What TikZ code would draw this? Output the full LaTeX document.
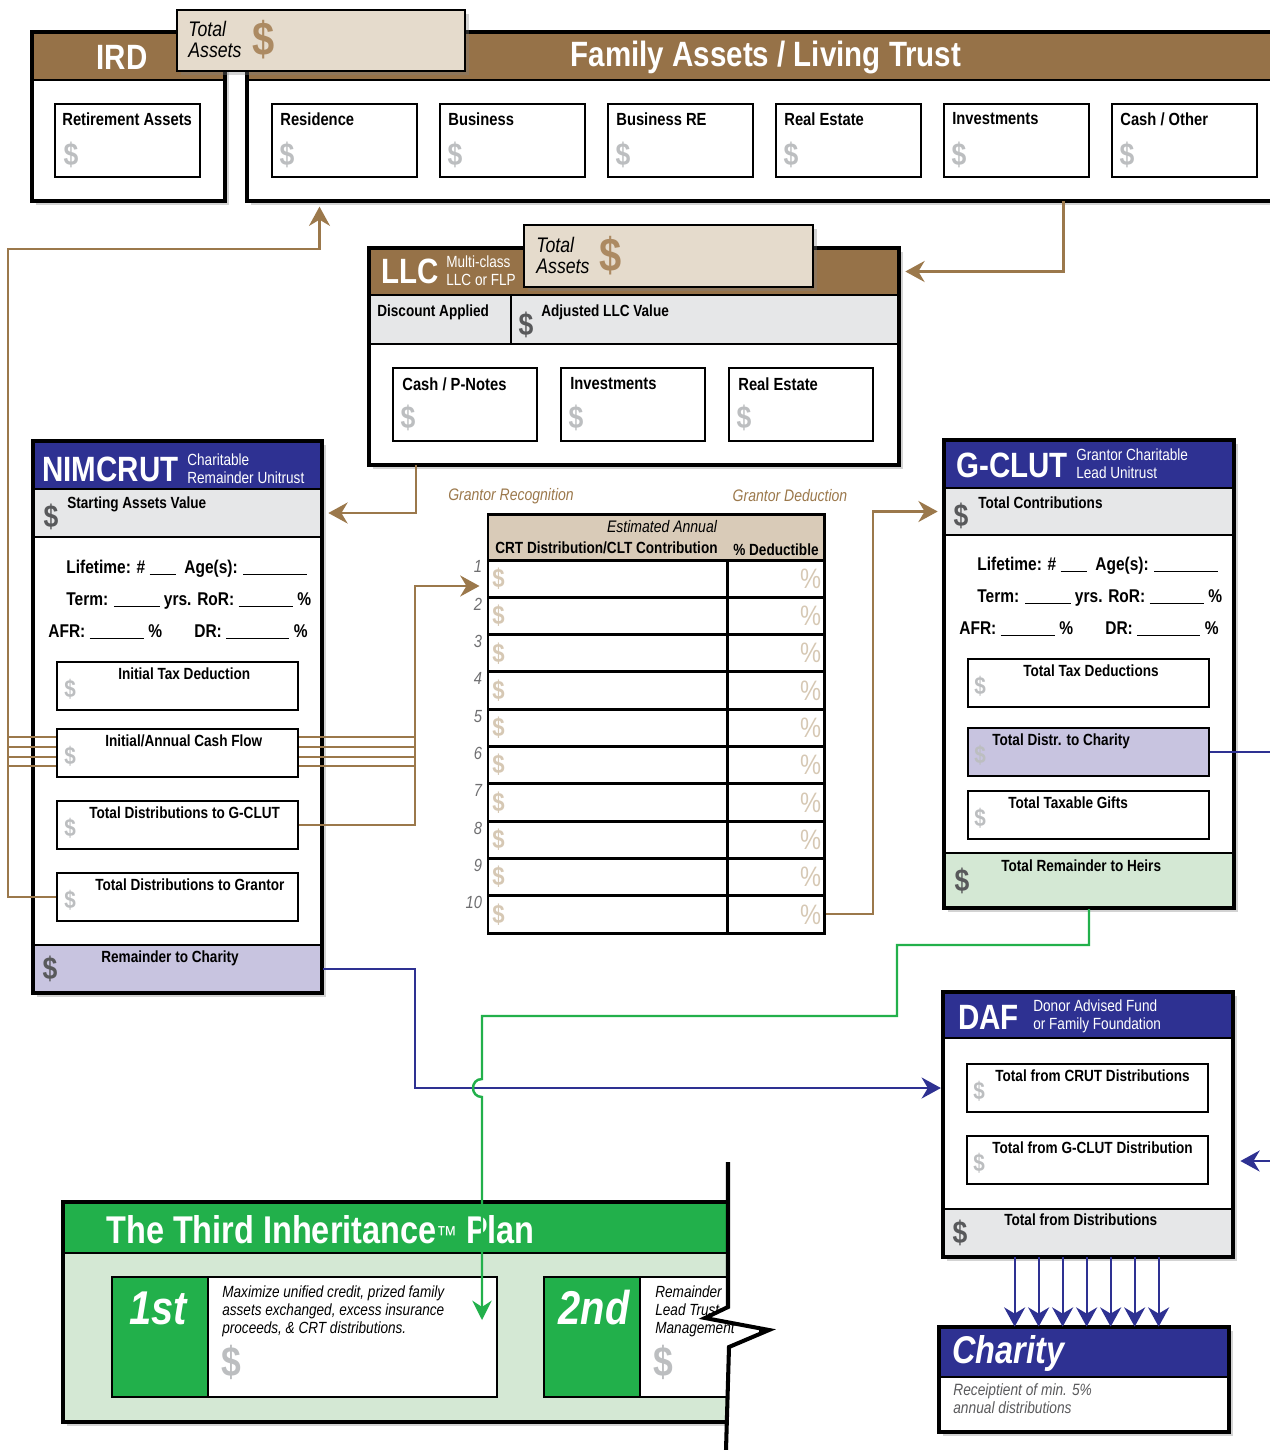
\documentclass[tikz,border=0pt]{standalone}
\usepackage{fontspec}
\setmainfont{Liberation Sans}[FakeStretch=0.84]
\usepackage{tikz}
\usetikzlibrary{shapes,shadows,calc,fit,arrows.meta}

\definecolor{trustbrown}{RGB}{150,114,72}
\definecolor{flowbrown}{RGB}{155,120,75}
\definecolor{dollarbrown}{RGB}{172,138,98}
\definecolor{totalbeige}{RGB}{229,219,204}
\definecolor{tablebeige}{RGB}{217,203,184}
\definecolor{tabledollar}{RGB}{214,200,180}
\definecolor{trustblue}{RGB}{46,49,146}
\definecolor{lavender}{RGB}{200,196,224}
\definecolor{rowgrey}{RGB}{230,231,232}
\definecolor{plangreen}{RGB}{34,176,75}
\definecolor{palegreen}{RGB}{212,232,212}
\definecolor{lightdollar}{RGB}{188,190,192}
\definecolor{darkdollar}{RGB}{88,89,91}
\definecolor{numgrey}{RGB}{110,110,112}
\definecolor{notegrey}{RGB}{90,90,92}

\newcommand{\fsz}[1]{\fontsize{#1}{#1}\selectfont}
\newcommand{\blankline}[1]{\rule[-1.2pt]{#1}{0.5pt}}

\begin{document}
\begin{tikzpicture}[x=0.02cm, y=-0.02cm]
    \tikzstyle{panel}=[fill=white, inner sep=0pt,
                       drop shadow={shadow xshift=2pt, shadow yshift=-2pt, opacity=0.35}]
    \tikzstyle{frameline}=[line width=2.3pt]
    \tikzstyle{band}=[draw=black, line width=1.2pt, inner sep=0pt]
    \tikzstyle{assetbox}=[draw=black, line width=1.5pt, fill=white, inner sep=0pt]
    \tikzstyle{cell}=[draw=black, line width=1.7pt, inner sep=0pt]
    \tikzstyle{totalbox}=[draw=black, line width=1.6pt, fill=totalbeige, inner sep=0pt,
                          drop shadow={shadow xshift=2pt, shadow yshift=-2pt, opacity=0.35}]
        % The texts:
    \tikzstyle{headtext}=[font=\bfseries\fsz{20}, text=white, inner sep=0pt]
    \tikzstyle{subtext}=[font=\fontsize{9.2}{10.4}\selectfont, text=white, inner sep=0pt,
                         align=left, anchor=west]
    \tikzstyle{totaltext}=[font=\itshape\fsz{12}, inner sep=0pt, align=left, anchor=north west]
    \tikzstyle{boxtext}=[font=\bfseries\fsz{10}, inner sep=0pt, anchor=north west]
    \tikzstyle{rowtext}=[font=\bfseries\fsz{9.2}, inner sep=0pt, anchor=north west]
    \tikzstyle{formtext}=[font=\bfseries\fsz{10.5}, inner sep=0pt, anchor=base west]
    \tikzstyle{flowlabel}=[font=\itshape\fsz{9.5}, text=flowbrown, inner sep=0pt]
    \tikzstyle{rownum}=[font=\itshape\fsz{10}, text=numgrey, inner sep=0pt, anchor=north east]
    \tikzstyle{tagtext}=[font=\bfseries\itshape\fsz{27}, text=white, inner sep=0pt]
    \tikzstyle{plannote}=[font=\itshape\fontsize{9.2}{10.3}\selectfont, inner sep=0pt,
                          align=left, anchor=north west]
    \tikzstyle{faintdollar}=[font=\bfseries\fsz{18}, text=lightdollar, inner sep=0pt]
    \tikzstyle{bigdollar}=[font=\bfseries\fsz{18}, text=darkdollar, inner sep=0pt]
    \tikzstyle{browndollar}=[font=\bfseries\fsz{27}, text=dollarbrown, inner sep=0pt]
        % The connectors:
    \tikzstyle{flow}=[draw=flowbrown, line width=1.2pt]
    \tikzstyle{flowarrow}=[flow, -{Stealth[length=11pt,width=12pt]}]
    \tikzstyle{blueflow}=[draw=trustblue, line width=1.2pt, -{Stealth[length=11pt,width=12pt]}]
    \tikzstyle{greenflow}=[draw=plangreen, line width=1.4pt, -{Stealth[length=11pt,width=11pt]}]

    \useasboundingbox (0,0) rectangle (1270,1450);
    \clip (0,0) rectangle (1270,1450);

    % family assets / living trust
    \node[panel, fit={(247,32)(1300,201)}] (family) {};
    \node[band, fill=trustbrown, fit={(247,32)(1300,80)}] (familyhead) {};
    \draw[frameline] (family.north west) rectangle (family.south east);
    \node[headtext] (familytitle) at (766,57) {Family Assets / Living Trust};
    \foreach \name/\x/\txt in {residence/272/Residence, business/440/Business,
            businessre/608/Business RE, realestate/776/Real Estate,
            investments/944/Investments, cashother/1112/{Cash / Other}}
    {
        \node[assetbox, fit={(\x,104)(\x+145,177)}] (\name) {};
        \node[boxtext] (\name-label) at (\x+8,112) {\txt};
        \node[faintdollar] (\name-dollar) at (\x+15,155) {\$};
    }

    % IRD
    \node[panel, fit={(32,32)(225,201)}] (ird) {};
    \node[band, fill=trustbrown, fit={(32,32)(225,80)}] (irdhead) {};
    \draw[frameline] (ird.north west) rectangle (ird.south east);
    \node[headtext] (irdtitle) at (122,57) {IRD};
    \node[assetbox, fit={(55,104)(200,177)}] (retire) {};
    \node[boxtext] (retire-label) at (62,112) {Retirement Assets};
    \node[faintdollar] (retire-dollar) at (71,155) {\$};

    \node[totalbox, fit={(177,10)(465,71)}] (irdtotal) {};
    \node[totaltext] (irdtotal-label) at (188,21) {Total\\Assets};
    \node[browndollar] (irdtotal-dollar) at (264,40) {\$};

    % LLC
    \node[panel, fit={(369,248)(899,465)}] (llc) {};
    \node[band, fill=trustbrown, fit={(369,248)(899,295)}] (llchead) {};
    \node[band, fill=rowgrey, fit={(369,295)(511,344)}] (discount) {};
    \node[band, fill=rowgrey, fit={(511,295)(899,344)}] (adjusted) {};
    \draw[frameline] (llc.north west) rectangle (llc.south east);
    \node[headtext, anchor=west] (llctitle) at (381,271) {LLC};
    \node[subtext] (llcsub) at (446,271) {Multi-class\\LLC or FLP};
    \node[totalbox, fit={(524,225)(813,287)}] (llctotal) {};
    \node[totaltext] (llctotal-label) at (536,237) {Total\\Assets};
    \node[browndollar] (llctotal-dollar) at (611,256) {\$};
    \node[rowtext] (discount-label) at (377,304) {Discount Applied};
    \node[rowtext] (adjusted-label) at (541,304) {Adjusted LLC Value};
    \node[bigdollar] (adjusted-dollar) at (526,325) {\$};
    \foreach \name/\x/\txt in {llccash/393/{Cash / P-Notes}, llcinvest/561/Investments,
            llcreal/729/Real Estate}
    {
        \node[assetbox, fit={(\x,368)(\x+144,441)}] (\name) {};
        \node[boxtext] (\name-label) at (\x+9,377) {\txt};
        \node[faintdollar] (\name-dollar) at (\x+15,418) {\$};
    }

    % NIMCRUT
    \node[panel, fit={(33,441)(322,993)}] (nimcrut) {};
    \node[band, fill=trustblue, fit={(33,441)(322,489)}] (nimhead) {};
    \node[band, fill=rowgrey, fit={(33,489)(322,537)}] (nimstart) {};
    \node[band, fill=lavender, fit={(33,945)(322,993)}] (nimrest) {};
    \draw[frameline] (nimcrut.north west) rectangle (nimcrut.south east);
    \node[headtext, anchor=west] (nimtitle) at (42,469) {NIMCRUT};
    \node[subtext] (nimsub) at (187,469) {Charitable\\Remainder Unitrust};
    \node[bigdollar] (nimstart-dollar) at (51,517) {\$};
    \node[rowtext] (nimstart-label) at (67,496) {Starting Assets Value};
    \node[bigdollar] (nimrest-dollar) at (50,969) {\$};
    \node[rowtext] (nimrest-label) at (101,950) {Remainder to Charity};
    \foreach \name/\y/\dx/\txt in {nimtax/662/61/Initial Tax Deduction,
            nimcash/729/48/{Initial/Annual Cash Flow},
            nimgclut/801/32/Total Distributions to G-CLUT,
            nimgrant/873/38/Total Distributions to Grantor}
    {
        \node[assetbox, fit={(57,\y)(298,\y+48)}] (\name) {};
        \node[rowtext] (\name-label) at (57+\dx,\y+5) {\txt};
        \node[faintdollar, font=\bfseries\fsz{14}] (\name-dollar) at (70,\y+27) {\$};
    }

    % G-CLUT
    \node[panel, fit={(944,440)(1234,908)}] (gclut) {};
    \node[band, fill=trustblue, fit={(944,440)(1234,488)}] (ghead) {};
    \node[band, fill=rowgrey, fit={(944,488)(1234,535)}] (gstart) {};
    \node[band, fill=palegreen, fit={(944,853)(1234,908)}] (gheirs) {};
    \draw[frameline] (gclut.north west) rectangle (gclut.south east);
    \node[headtext, anchor=west] (gtitle) at (956,465) {G-CLUT};
    \node[subtext] (gsub) at (1076,464) {Grantor Charitable\\Lead Unitrust};
    \node[bigdollar] (gstart-dollar) at (961,516) {\$};
    \node[rowtext] (gstart-label) at (978,496) {Total Contributions};
    \node[bigdollar] (gheirs-dollar) at (962,881) {\$};
    \node[rowtext] (gheirs-label) at (1001,859) {Total Remainder to Heirs};
    \foreach \name/\y/\dx/\fillc/\txt in {gtax/659/55/white/Total Tax Deductions,
            gcharity/728/24/lavender/Total Distr. to Charity,
            ggifts/791/40/white/Total Taxable Gifts}
    {
        \node[assetbox, fill=\fillc, fit={(968,\y)(1209,\y+48)}] (\name) {};
        \node[rowtext] (\name-label) at (968+\dx,\y+5) {\txt};
        \node[faintdollar, font=\bfseries\fsz{14}] (\name-dollar) at (980,\y+27) {\$};
    }

    % form lines of both trusts
    \foreach \dx/\dy/\trust in {0/0/nim, 911/-3/g}
    {
        \node[formtext] (\trust-life) at (66+\dx,573+\dy) {Lifetime: \# \blankline{15pt}};
        \node[formtext] (\trust-age) at (184+\dx,573+\dy) {Age(s): \blankline{36pt}};
        \node[formtext] (\trust-term) at (66+\dx,605+\dy) {Term: \blankline{26pt} yrs. RoR: \blankline{31pt} \%};
        \node[formtext] (\trust-afr) at (48+\dx,637+\dy) {AFR: \blankline{31pt} \%};
        \node[formtext] (\trust-dr) at (194+\dx,637+\dy) {DR: \blankline{36pt} \%};
    }

    % CRT distribution table
    \node[flowlabel] (recognition) at (511,496) {Grantor Recognition};
    \node[flowlabel] (deduction) at (790,496) {Grantor Deduction};
    \node[cell, fit={(488,514)(824,933)}] (crt) {};
    \node[cell, fill=tablebeige, fit={(488,514)(824,560)}] (crthead) {};
    \node[font=\itshape\fsz{9.5}, inner sep=0pt] (crtnote) at (662,527) {Estimated Annual};
    \node[rowtext] (crtamount) at (495,541) {CRT Distribution/CLT Contribution};
    \node[rowtext] (crtdeduct) at (733,543) {\% Deductible};
    \foreach \i in {1,...,10}
    {
        \node[cell, fit={(488,522.7+37.3*\i)(727,560+37.3*\i)}] (amount\i) {};
        \node[cell, fit={(727,522.7+37.3*\i)(824,560+37.3*\i)}] (deduct\i) {};
        \node[rownum] (num\i) at ([shift={(-4,2)}]amount\i.north west) {\i};
        \node[faintdollar, font=\bfseries\fsz{15}, text=tabledollar] (amountsign\i)
            at ([shift={(12,0)}]amount\i.west) {\$};
        \node[font=\fsz{16}, text=tabledollar, inner sep=0pt] (pctsign\i)
            at ([shift={(-15,0)}]deduct\i.east) {\%};
    }

    % DAF
    \node[panel, fit={(943,992)(1233,1257)}] (daf) {};
    \node[band, fill=trustblue, fit={(943,992)(1233,1038)}] (dafhead) {};
    \node[band, fill=rowgrey, fit={(943,1209)(1233,1257)}] (dafsum) {};
    \draw[frameline] (daf.north west) rectangle (daf.south east);
    \node[headtext, anchor=west] (daftitle) at (958,1017) {DAF};
    \node[subtext] (dafsub) at (1033,1016) {Donor Advised Fund\\or Family Foundation};
    \node[bigdollar] (dafsum-dollar) at (960,1233) {\$};
    \node[rowtext] (dafsum-label) at (1004,1213) {Total from Distributions};
    \foreach \name/\y/\dx/\txt in {dafcrut/1064/28/Total from CRUT Distributions,
            dafgclut/1136/25/Total from G-CLUT Distribution}
    {
        \node[assetbox, fit={(967,\y)(1208,\y+48)}] (\name) {};
        \node[rowtext] (\name-label) at (967+\dx,\y+5) {\txt};
        \node[faintdollar, font=\bfseries\fsz{14}] (\name-dollar) at (979,\y+27) {\$};
    }

    % Charity
    \node[panel, fit={(939,1327)(1229,1432)}] (charity) {};
    \node[band, fill=trustblue, fit={(939,1327)(1229,1377)}] (charityhead) {};
    \draw[frameline] (charity.north west) rectangle (charity.south east);
    \node[headtext, font=\bfseries\itshape\fsz{22}, anchor=west] (charitytitle) at (952,1353) {Charity};
    \node[plannote, text=notegrey, font=\itshape\fontsize{9.3}{10.4}\selectfont] (charitynote)
        at (953,1383) {Receiptient of min. 5\%\\annual distributions};

    % the third inheritance plan
    \node[panel, fill=palegreen, fit={(63,1202)(760,1422)}] (plan) {};
    \node[band, fill=plangreen, fit={(63,1202)(760,1253)}] (planhead) {};
    \draw[frameline] (plan.north west) rectangle (plan.south east);
    \node[headtext, font=\bfseries\fsz{22}, anchor=west] (plantitle) at (106,1230)
        {The Third Inheritance{\mdseries\fsz{14}™} Plan};
    \node[assetbox, fit={(112,1277)(497,1397)}] (firstplan) {};
    \node[assetbox, fill=plangreen, fit={(112,1277)(208,1397)}] (firsttag) {};
    \node[tagtext] (firsttag-label) at (158,1308) {1st};
    \node[plannote] (firstplan-label) at (222,1285)
        {Maximize unified credit, prized family\\assets exchanged, excess insurance\\proceeds, \& CRT distributions.};
    \node[faintdollar, font=\bfseries\fsz{24}] (firstplan-dollar) at (231,1362) {\$};
    \node[assetbox, fit={(544,1277)(760,1397)}] (secondplan) {};
    \node[assetbox, fill=plangreen, fit={(544,1277)(640,1397)}] (secondtag) {};
    \node[tagtext] (secondtag-label) at (594,1308) {2nd};
    \node[plannote] (secondplan-label) at (655,1285) {Remainder\\Lead Trust\\Management};
    \node[faintdollar, font=\bfseries\fsz{24}] (secondplan-dollar) at (663,1362) {\$};
    % torn edge
    \fill[white] (728,1150) -- (728,1307) -- (705,1318) -- (769,1330) -- (729,1347)
        -- (726,1450) -- (920,1450) -- (920,1150) -- cycle;
    \draw[frameline] (728,1162) -- (728,1307) -- (705,1318) -- (769,1330) -- (729,1347) -- (726,1450);

    % connectors
    \coordinate (leftrail) at (8,249);
    \coordinate (midrail) at (415,586);
    \coordinate (rightrail) at (873,515);
    \coordinate (bluerail) at (415,1088);
    \coordinate (greenbend) at (897,945);
    \coordinate (greendrop) at (482,1016);
    \coordinate (hop) at (482,1088);
    \coordinate (greenend) at (482,1320);
    \coordinate (offright) at (1290,1161);

    \draw[flowarrow, shorten >=3pt] ([shift={(290,0)}]family.south) |- (llchead.east);
    \draw[flowarrow, shorten >=3pt] ([shift={(-218,0)}]llc.south) |- (nimstart.east);
    \draw[flowarrow, shorten >=3pt] (nimgrant.west) -| (leftrail) -| ([shift={(-454,0)}]family.south);
    \foreach \dy in {9,19,29,38}
    {
        \draw[flow] ([shift={(0,\dy)}]nimcash.north west) -- +(-49,0);
        \draw[flow] ([shift={(0,\dy)}]nimcash.north east) -- +(117,0);
    }
    \draw[flowarrow, shorten >=4pt] (nimgclut.east) -| (midrail) -- (midrail -| crt.west);
    \draw[flowarrow, shorten >=3pt] (deduct10.east) -| (rightrail |- gstart.west) -- (gstart.west);

    \draw[blueflow, -] (gcharity.east) -- (gcharity.east -| offright);
    \draw[blueflow, shorten >=4pt] (offright) -- (offright -| daf.east);
    \draw[blueflow, shorten >=1pt] (nimrest.east) -| (bluerail) -- (bluerail -| daf.west);
    \foreach \dx in {72,96,...,216}
        \draw[blueflow] ([shift={(\dx,0)}]daf.south west) -- ([shift={(\dx+4,0)}]charity.north west);

    \draw[greenflow] (gheirs.south) |- (greenbend) |- (greendrop) -- ([shift={(0,-9)}]hop)
        .. controls ([shift={(-12,-9)}]hop) and ([shift={(-12,9)}]hop) .. ([shift={(0,9)}]hop)
        -- (greenend);
\end{tikzpicture}
\end{document}
